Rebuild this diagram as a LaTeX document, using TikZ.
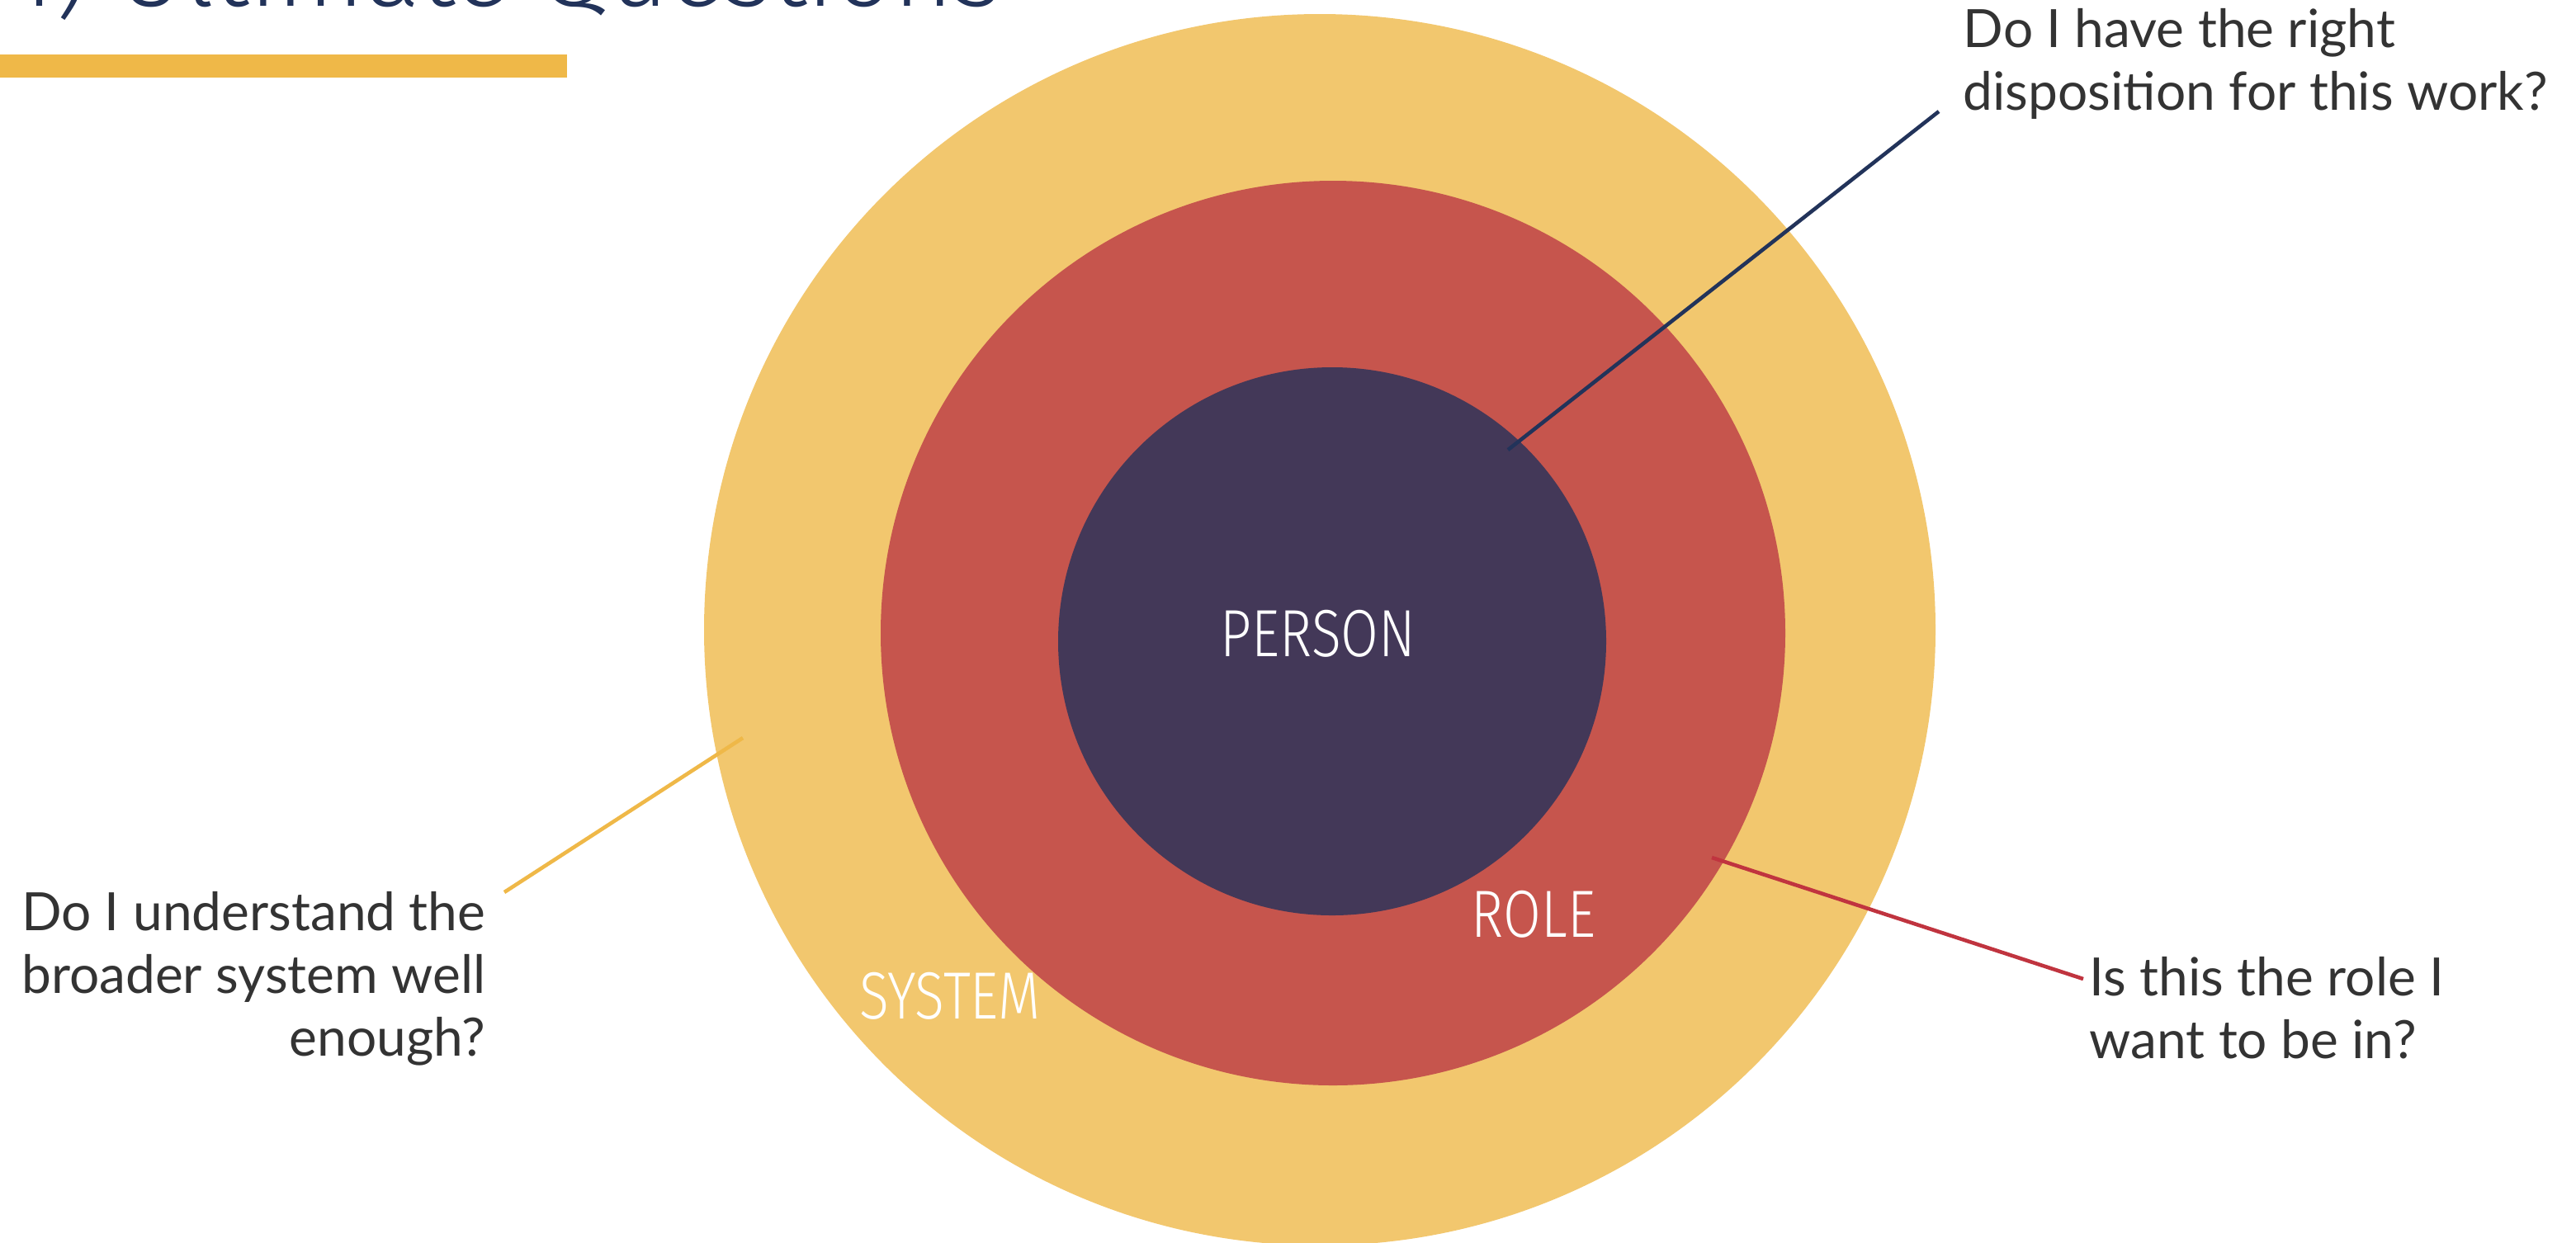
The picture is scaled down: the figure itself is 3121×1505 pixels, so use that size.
\documentclass[tikz,border=0pt]{standalone}
\usepackage{fontspec}
\setmainfont{Lato}
\newfontfamily\ringfont[FakeStretch=0.82]{Fira Sans Light}
\newfontfamily\titlefont{Fira Sans Light}
\definecolor{sysyellow}{HTML}{F2C76E}
\definecolor{rolered}{HTML}{C6554D}
\definecolor{personpurple}{HTML}{433858}
\definecolor{baryellow}{HTML}{EFB848}
\definecolor{linered}{HTML}{C0343F}
\definecolor{navy}{HTML}{22335A}
\definecolor{textgrey}{HTML}{333333}
\tikzset{
  ringlabel/.style={text=white, inner sep=0pt, font=\ringfont\fontsize{23}{26}\selectfont},
  question/.style={text=textgrey, inner sep=0pt, font=\fontsize{18.2}{21.5}\selectfont},
  pinline/.style={line width=1.3pt}
}
\begin{document}
\begin{tikzpicture}[x=0.01cm, y=-0.01cm]
    \useasboundingbox (0,0) rectangle (3121,1505);
    \begin{scope}
    \clip (0,0) rectangle (3121,1505);

    % title, cut off at the top
    \node[anchor=base west, inner sep=0pt, text=navy, font=\titlefont\fontsize{35.5}{40}\selectfont] (title) at (2,7) {4) Ultimate Questions};
    \fill[baryellow] (0,66) rectangle (687,94);

    % the three rings
    \fill[sysyellow] (1599,763) circle (746);
    \fill[rolered] (1615,767) circle (548);
    \fill[personpurple] (1614,777) circle (332);
    \end{scope}

    \node[ringlabel] (person) at (1597,768) {PERSON};
    \node[ringlabel] (role) at (1858,1108) {ROLE};
    \node[ringlabel] (system) at (1151,1207) {SYSTEM};

    % questions
    \node[question, anchor=north west, align=left] (qperson) at (2378,10)
        {Do I have the right\\disposition for this work?};
    \node[question, anchor=north east, align=right] (qsystem) at (589,1080)
        {Do I understand the\\broader system well\\enough?};
    \node[question, anchor=north west, align=left] (qrole) at (2531,1159)
        {Is this the role I\\want to be in?};

    % pins
    \coordinate (pin-person) at (1827,545);
    \coordinate (pin-system) at (900,894);
    \coordinate (pin-role) at (2074,1039);
    \coordinate (tip-person) at (2349,135);
    \coordinate (tip-system) at (611,1081);
    \coordinate (tip-role) at (2524,1186);

    \draw[pinline, navy] (pin-person) -- (tip-person);
    \draw[pinline, baryellow] (pin-system) -- (tip-system);
    \draw[pinline, linered] (pin-role) -- (tip-role);
\end{tikzpicture}
\end{document}
